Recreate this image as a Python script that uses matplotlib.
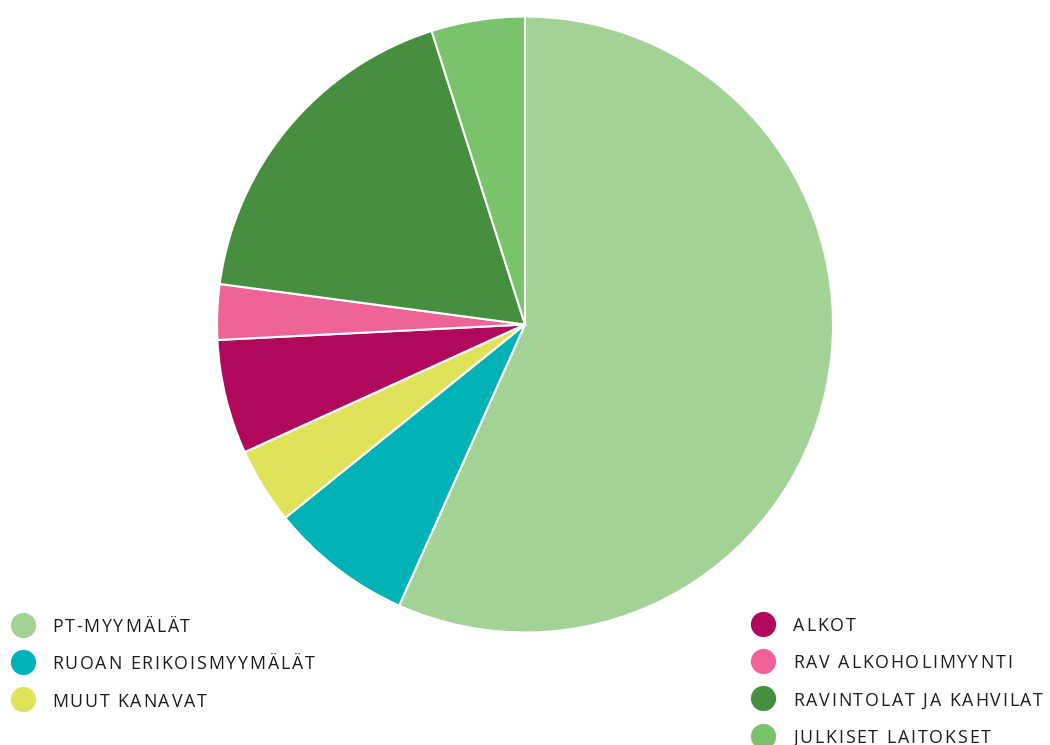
import matplotlib

matplotlib.use("Agg")
import matplotlib.pyplot as plt
from matplotlib.font_manager import FontProperties, findfont, get_font

labels = [
    "PT-MYYMÄLÄT",
    "RUOAN ERIKOISMYYMÄLÄT",
    "MUUT KANAVAT",
    "ALKOT",
    "RAV ALKOHOLIMYYNTI",
    "RAVINTOLAT JA KAHVILAT",
    "JULKISET LAITOKSET",
]
shares = [56.7, 7.5, 4.0, 6.0, 2.9, 18.0, 4.9]
colors = ["#a3d394", "#00b2b5", "#e0e35a", "#b0095b", "#f06398", "#468f3f", "#79c46b"]

W, H = 1050, 745
DPI = 100
fig = plt.figure(figsize=(W / DPI, H / DPI), dpi=DPI)

# pie axes, placed in pixels: centre (525, 324.5), radius 308
cx, cy, r = 525, 324.5, 308
ax = fig.add_axes([(cx - r) / W, (H - cy - r) / H, 2 * r / W, 2 * r / H])
ax.pie(shares, colors=colors, startangle=90, counterclock=False, radius=1,
       wedgeprops=dict(edgecolor="white", linewidth=1.5))
ax.set_xlim(-1.0, 1.0)
ax.set_ylim(-1.0, 1.0)
ax.set_aspect("equal")
ax.axis("off")

# legend overlay in pixel coordinates
lg = fig.add_axes([0, 0, 1, 1], zorder=-1)
lg.set_xlim(0, W)
lg.set_ylim(H, 0)
lg.axis("off")

prop = FontProperties(family=["Open Sans", "DejaVu Sans"], size=12.8)
ft = get_font(findfont(prop))
ft.set_size(prop.get_size_in_points(), DPI)


def advance(ch):
    # unhinted advance width in pixels
    return ft.load_char(ord(ch)).linearHoriAdvance / 65536


def tracked_text(x, y, s, tracking):
    # matplotlib has no letter-spacing, so place each glyph on its own
    for ch in s:
        lg.text(x, y, ch, fontproperties=prop, color="#1e1b1c", va="baseline", ha="left")
        x += advance(ch) + tracking


columns = [(22.5, 52, [0, 1, 2], 624.5), (763, 793, [3, 4, 5, 6], 623.7)]
for mx, tx, idxs, y0 in columns:
    for row, i in enumerate(idxs):
        y = y0 + row * 37.3
        lg.scatter([mx], [y], s=330, color=colors[i], linewidths=0, clip_on=False)
        tracked_text(tx, y + 7.5, labels[i], 1.85)

fig.savefig("out.png", dpi=DPI)
